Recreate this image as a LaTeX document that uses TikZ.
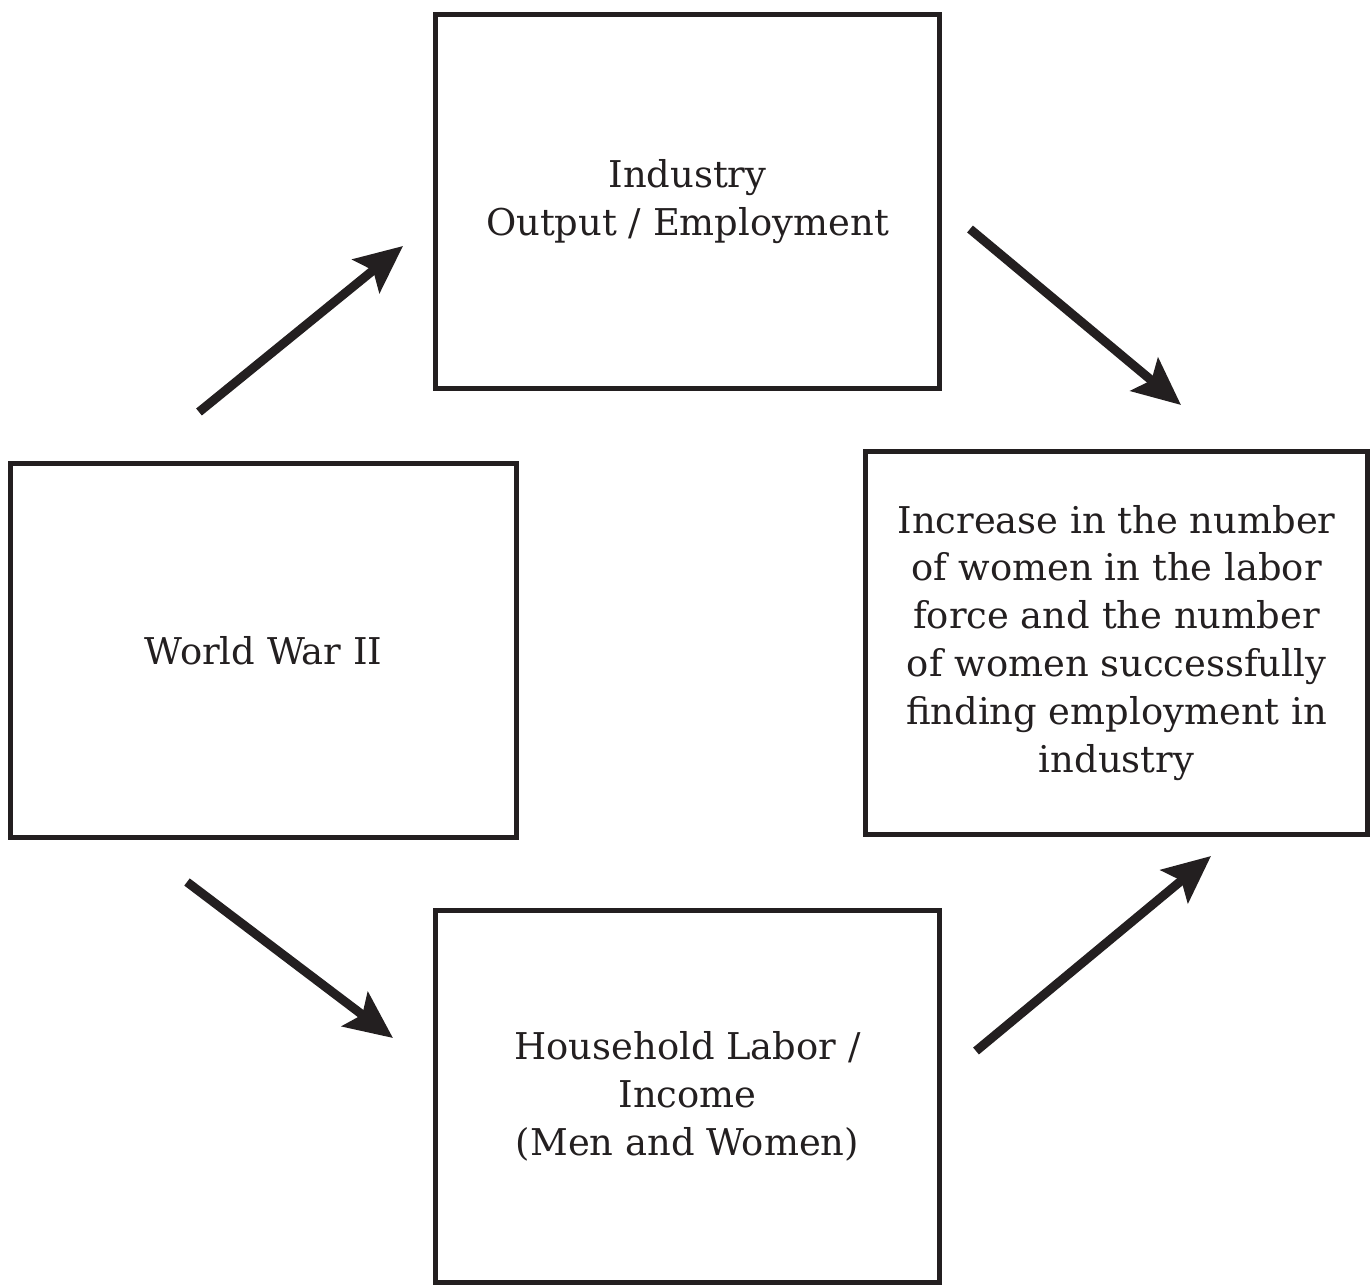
\documentclass[tikz,border=0pt]{standalone}
\usepackage{fontspec}
\setmainfont{DejaVu Serif}
\usetikzlibrary{arrows.meta}
\definecolor{ink}{HTML}{231F20}
\begin{document}
\begin{tikzpicture}[x=0.02cm,y=-0.02cm,
  box/.style={draw=ink,line width=0.1cm,align=center,inner sep=0pt,
    font=\fontsize{21}{27.3}\selectfont,text=ink},
  flow/.style={draw=ink,line width=0.18cm,
    -{Stealth[length=0.95cm,width=0.85cm,inset=0.18cm]}}]
\useasboundingbox (0,0) rectangle (1372,1287);
\node[box,minimum width=10.08cm,minimum height=7.48cm] (ind) at (687.5,201.5)
  {Industry\\Output / Employment};
\node[box,minimum width=10.12cm,minimum height=7.48cm] (ww) at (263.5,650.5)
  {World War II};
\node[box,minimum width=10.04cm,minimum height=7.66cm] (inc) at (1116.5,643)
  {Increase in the number\\of women in the labor\\force and the number\\of women successfully\\finding employment in\\industry};
\node[box,minimum width=10.08cm,minimum height=7.44cm] (hh) at (687.5,1096.5)
  {Household Labor /\\Income\\(Men and Women)};
\coordinate (a1s) at (199,412); \coordinate (a1e) at (403,246);
\coordinate (a2s) at (970,229); \coordinate (a2e) at (1181,405);
\coordinate (a3s) at (187,882); \coordinate (a3e) at (393,1038);
\coordinate (a4s) at (976,1051); \coordinate (a4e) at (1211,856);
\draw[flow] (a1s) -- (a1e);
\draw[flow] (a2s) -- (a2e);
\draw[flow] (a3s) -- (a3e);
\draw[flow] (a4s) -- (a4e);
\end{tikzpicture}
\end{document}
